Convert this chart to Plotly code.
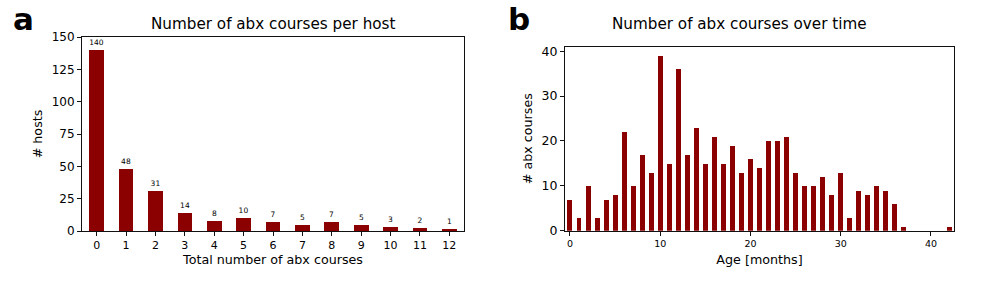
import plotly.graph_objects as go

# Panel a data
courses = list(range(13))
hosts = [140, 48, 31, 14, 8, 10, 7, 5, 7, 5, 3, 2, 1]

# Panel b data
age_months = list(range(43))
abx_courses = [7, 3, 10, 3, 7, 8, 22, 10, 17, 13, 39, 15, 36, 17, 23, 15, 21, 15, 19, 13,
               16, 14, 20, 20, 21, 13, 10, 10, 12, 8, 13, 3, 9, 8, 10, 9, 6, 1, 0, 0, 0, 0, 1]

W, H = 997, 285
BAR = "#8b0000"
FONT = "DejaVu Sans"

def px(x):
    return x / W

def py(y):
    return (H - y) / H

fig = go.Figure()
fig.add_trace(go.Bar(x=courses, y=hosts, width=0.5, marker=dict(color=BAR, line=dict(width=0)),
                     text=[str(v) for v in hosts], textposition="outside",
                     textfont=dict(size=7.5, color="black", family=FONT), cliponaxis=False,
                     xaxis="x", yaxis="y", showlegend=False))
fig.add_trace(go.Bar(x=age_months, y=abx_courses, width=0.55, marker=dict(color=BAR, line=dict(width=0)),
                     xaxis="x2", yaxis="y2", showlegend=False))

def axis_common(tsize):
    return dict(showline=True, linecolor="#111", linewidth=1, mirror=True, ticks="outside",
                ticklen=4, tickcolor="#111", showgrid=False, zeroline=False, automargin=False,
                tickfont=dict(family=FONT, size=tsize, color="black"))

TITLE_FONT = dict(size=12.7, family=FONT, color="black")

fig.update_layout(
    template="none",
    width=W, height=H, margin=dict(l=0, r=0, t=0, b=0, autoexpand=False),
    paper_bgcolor="white", plot_bgcolor="white",
    font=dict(family=FONT, color="black"),
    bargap=0,
    xaxis=dict(domain=[px(82), px(464)], range=[-0.5, 12.5], tickmode="array", tickvals=courses,
               title=dict(text="Total number of abx courses", font=TITLE_FONT, standoff=3),
               anchor="y", **axis_common(11)),
    yaxis=dict(domain=[py(231), py(37)], range=[0, 150], tickvals=[0, 25, 50, 75, 100, 125, 150],
               title=dict(text="# hosts", font=TITLE_FONT, standoff=6),
               anchor="x", **axis_common(12)),
    xaxis2=dict(domain=[px(565), px(954)], range=[-0.55, 42.55], tickvals=[0, 10, 20, 30, 40],
                title=dict(text="Age [months]", font=TITLE_FONT, standoff=7),
                anchor="y2", **axis_common(9.5)),
    yaxis2=dict(domain=[py(230.7), py(46.7)], range=[0, 41], tickvals=[0, 10, 20, 30, 40],
                title=dict(text="# abx courses", font=TITLE_FONT, standoff=6),
                anchor="x2", **axis_common(12.5)),
    annotations=[
        dict(text="Number of abx courses per host", x=px(273), y=py(24), xref="paper", yref="paper",
             showarrow=False, font=dict(size=15.2, family=FONT), xanchor="center", yanchor="middle"),
        dict(text="Number of abx courses over time", x=px(739), y=py(24), xref="paper", yref="paper",
             showarrow=False, font=dict(size=15.2, family=FONT), xanchor="center", yanchor="middle"),
        dict(text="<b>a</b>", x=px(11), y=py(19.5), xref="paper", yref="paper", showarrow=False,
             font=dict(size=31, family=FONT), xanchor="left", yanchor="middle"),
        dict(text="<b>b</b>", x=px(506), y=py(19.5), xref="paper", yref="paper", showarrow=False,
             font=dict(size=31, family=FONT), xanchor="left", yanchor="middle"),
    ],
)

fig.write_html("out.html", config={"displayModeBar": False},
               post_script="document.body.style.margin='0';")
